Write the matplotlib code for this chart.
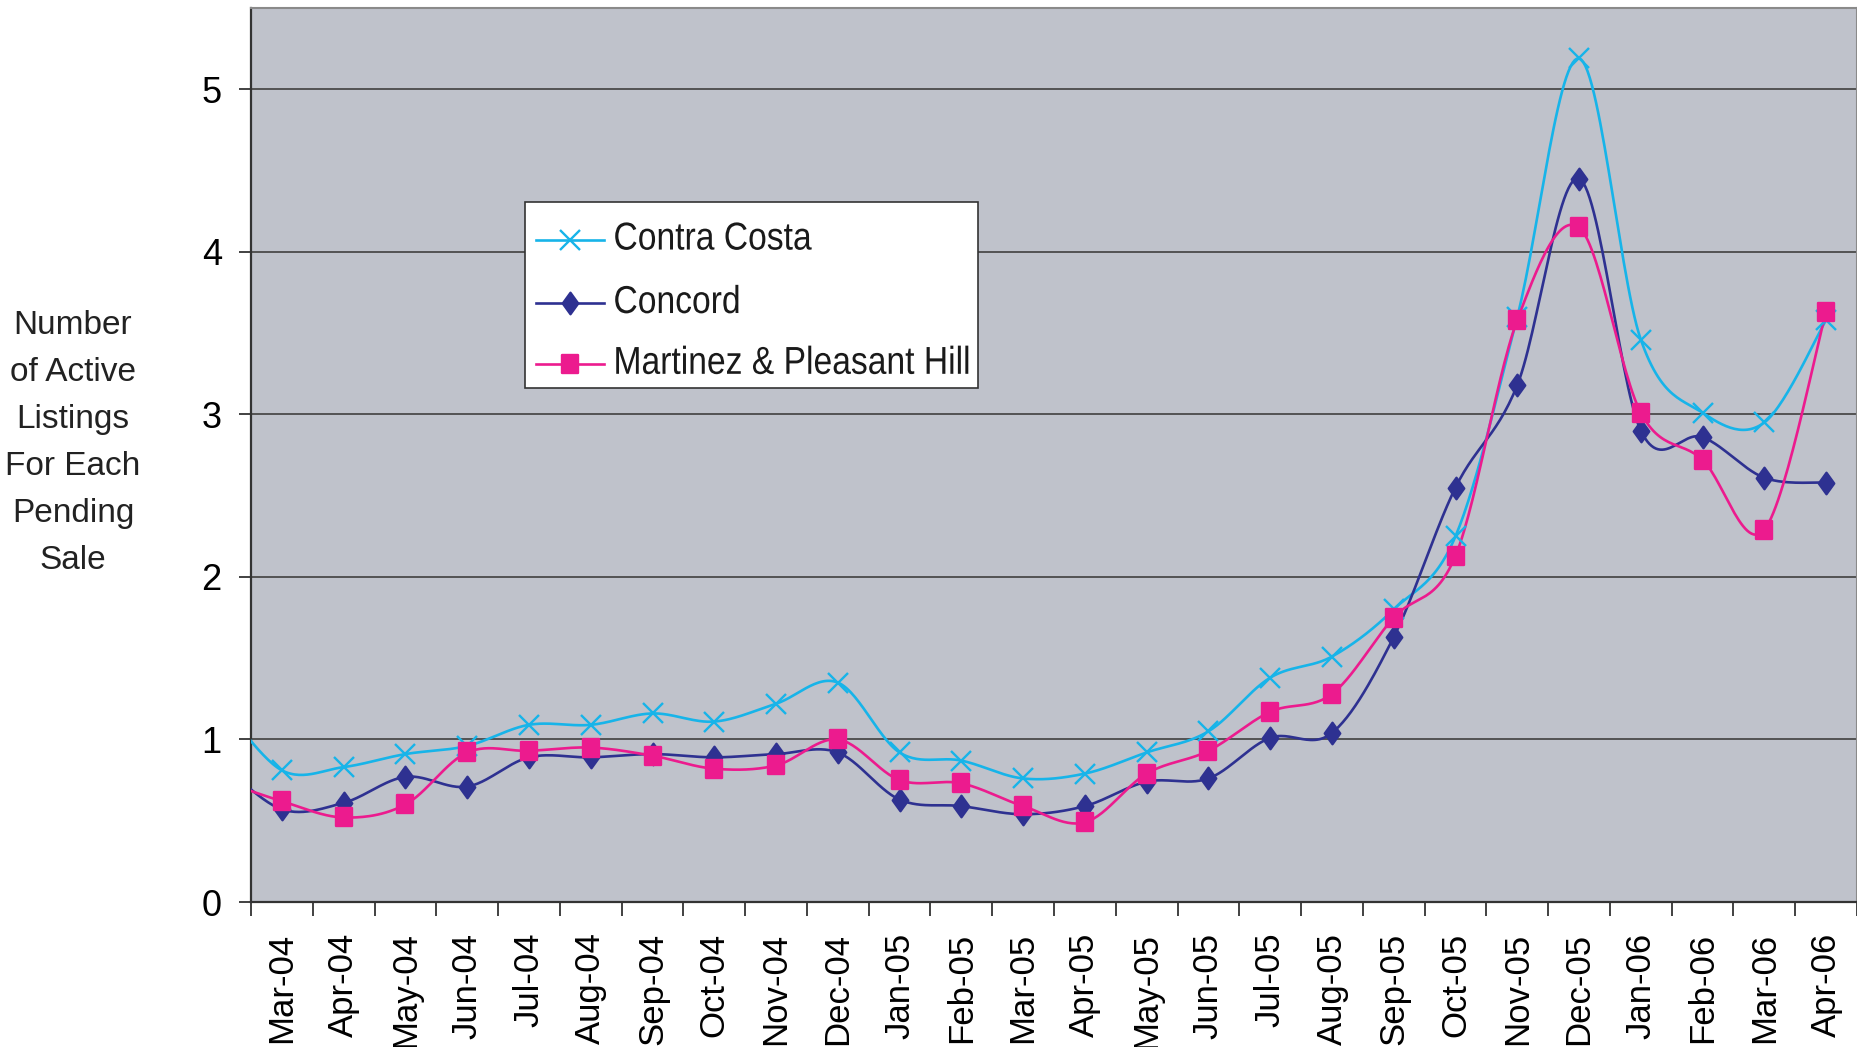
import numpy as np
import matplotlib.pyplot as plt
from matplotlib.path import Path
from matplotlib.patches import Rectangle
from matplotlib.patheffects import AbstractPathEffect
from matplotlib.transforms import Affine2D

# data (first entry Feb-04 sits just left of the visible axis)
months = ['Feb-04', 'Mar-04', 'Apr-04', 'May-04', 'Jun-04', 'Jul-04', 'Aug-04', 'Sep-04',
          'Oct-04', 'Nov-04', 'Dec-04', 'Jan-05', 'Feb-05', 'Mar-05', 'Apr-05', 'May-05',
          'Jun-05', 'Jul-05', 'Aug-05', 'Sep-05', 'Oct-05', 'Nov-05', 'Dec-05', 'Jan-06',
          'Feb-06', 'Mar-06', 'Apr-06']
contra_costa = [1.23, 0.81, 0.83, 0.91, 0.96, 1.09, 1.09, 1.16, 1.11, 1.22, 1.35, 0.92, 0.87,
                0.76, 0.79, 0.92, 1.05, 1.38, 1.51, 1.80, 2.25, 3.60, 5.19, 3.46, 3.01, 2.95, 3.58]
concord = [0.86, 0.57, 0.61, 0.77, 0.71, 0.89, 0.89, 0.91, 0.89, 0.91, 0.92, 0.63, 0.59,
           0.54, 0.59, 0.74, 0.76, 1.01, 1.04, 1.63, 2.55, 3.18, 4.45, 2.90, 2.86, 2.61, 2.58]
martinez = [0.75, 0.62, 0.52, 0.60, 0.92, 0.93, 0.95, 0.90, 0.82, 0.84, 1.00, 0.75, 0.73,
            0.59, 0.49, 0.79, 0.93, 1.17, 1.28, 1.75, 2.13, 3.58, 4.15, 3.01, 2.72, 2.29, 3.63]
names = ['Contra Costa', 'Concord', 'Martinez & Pleasant Hill']
colors = ['#17B4E9', '#2E3191', '#EC1B8E']


def smooth(x, y, n=30):
    # excel-style smoothed line: cubic bezier with catmull-rom control points
    x = np.asarray(x, float)
    y = np.asarray(y, float)
    px = np.concatenate([[x[0]], x, [x[-1]]])
    py = np.concatenate([[y[0]], y, [y[-1]]])
    t = np.linspace(0, 1, n)[:, None]
    xs, ys = [], []
    for i in range(1, len(px) - 2):
        p0 = np.array([px[i], py[i]])
        p3 = np.array([px[i + 1], py[i + 1]])
        c1 = p0 + (p3 - np.array([px[i - 1], py[i - 1]])) / 6
        c2 = p3 - (np.array([px[i + 2], py[i + 2]]) - p0) / 6
        b = (1 - t) ** 3 * p0 + 3 * (1 - t) ** 2 * t * c1 + 3 * (1 - t) * t ** 2 * c2 + t ** 3 * p3
        xs.append(b[:, 0])
        ys.append(b[:, 1])
    return np.concatenate(xs), np.concatenate(ys)


class Squeeze(AbstractPathEffect):
    # narrow the glyphs horizontally (the legend uses a condensed face)
    def __init__(self, sx):
        super().__init__()
        self.sx = sx

    def draw_path(self, renderer, gc, tpath, affine, rgbFace=None):
        x0, y0 = affine.transform((0, 0))
        affine = affine + Affine2D().translate(-x0, -y0).scale(self.sx, 1).translate(x0, y0)
        renderer.draw_path(gc, tpath, affine, rgbFace)


diamond = Path([(0, 1), (0.72, 0), (0, -1), (-0.72, 0), (0, 1)],
               [Path.MOVETO, Path.LINETO, Path.LINETO, Path.LINETO, Path.CLOSEPOLY])
tall_square = Path([(-0.85, -1), (0.85, -1), (0.85, 1), (-0.85, 1), (-0.85, -1)],
                   [Path.MOVETO, Path.LINETO, Path.LINETO, Path.LINETO, Path.CLOSEPOLY])
markers = ['x', diamond, tall_square]
msizes = [15, 15.5, 13.5]

plt.rcParams['font.family'] = ['Liberation Sans', 'DejaVu Sans']

fig = plt.figure(figsize=(18.57, 10.47), dpi=100)
ax = fig.add_axes([251 / 1857, 145 / 1047, 1606 / 1857, 894 / 1047])
ax.set_facecolor('#BFC2CB')

xpos = np.arange(len(months)) - 1
for vals, name, c, m, ms in zip([contra_costa, concord, martinez], names, colors, markers, msizes):
    sx, sy = smooth(xpos, vals)
    ax.plot(sx, sy, color=c, lw=1.9, zorder=3)
    ax.plot(xpos, vals, ls='none', marker=m, ms=ms, color=c, mec=c, mew=1.7, zorder=4)

ax.set_xlim(-0.5, len(months) - 1.5)
ax.set_ylim(0, 5.5)
ax.set_yticks([0, 1, 2, 3, 4, 5])
ax.yaxis.grid(True, color='#4A4A4A', lw=1.3)
ax.set_axisbelow(True)
ax.tick_params(axis='y', labelsize=26, length=9, width=1.3, pad=12, color='#333333')

ax.set_xticks(np.arange(-0.5, len(months) - 1, 1))
ax.set_xticklabels([])
ax.set_xticks(xpos[1:], minor=True)
ax.set_xticklabels(months[1:], minor=True, rotation=90, fontsize=25)
ax.tick_params(axis='x', which='major', length=10, width=1.3, color='#333333')
ax.tick_params(axis='x', which='minor', length=0, pad=22)

for side in ['left', 'bottom']:
    ax.spines[side].set_color('#333333')
    ax.spines[side].set_linewidth(1.6)
for side in ['top', 'right']:
    ax.spines[side].set_color('#8A8A8A')
    ax.spines[side].set_linewidth(1.5)

# legend box drawn by hand so the condensed text fits like the original
ax.add_patch(Rectangle((0.1706, 0.575), 0.2821, 0.208, transform=ax.transAxes,
                       facecolor='white', edgecolor='#333333', lw=1.2, zorder=5))
row_y = [0.741, 0.670, 0.602]
for name, c, m, ms, yy in zip(names, colors, markers, msizes, row_y):
    ax.plot([0.1777, 0.2198], [yy, yy], transform=ax.transAxes, color=c, lw=1.9,
            clip_on=False, zorder=6)
    ax.plot([0.1988], [yy], transform=ax.transAxes, ls='none', marker=m, ms=ms, color=c,
            mec=c, mew=1.7, clip_on=False, zorder=6)
    ax.text(0.2257, yy, name, transform=ax.transAxes, ha='left', va='center', fontsize=28,
            color='#1A1A1A', zorder=7, path_effects=[Squeeze(0.865)])

fig.text(73 / 1857, 1 - 443 / 1047, 'Number\nof Active\nListings\nFor Each\nPending\nSale',
         ha='center', va='center', fontsize=24, linespacing=1.67, color='#222222')

fig.savefig('out.png', dpi=100)
